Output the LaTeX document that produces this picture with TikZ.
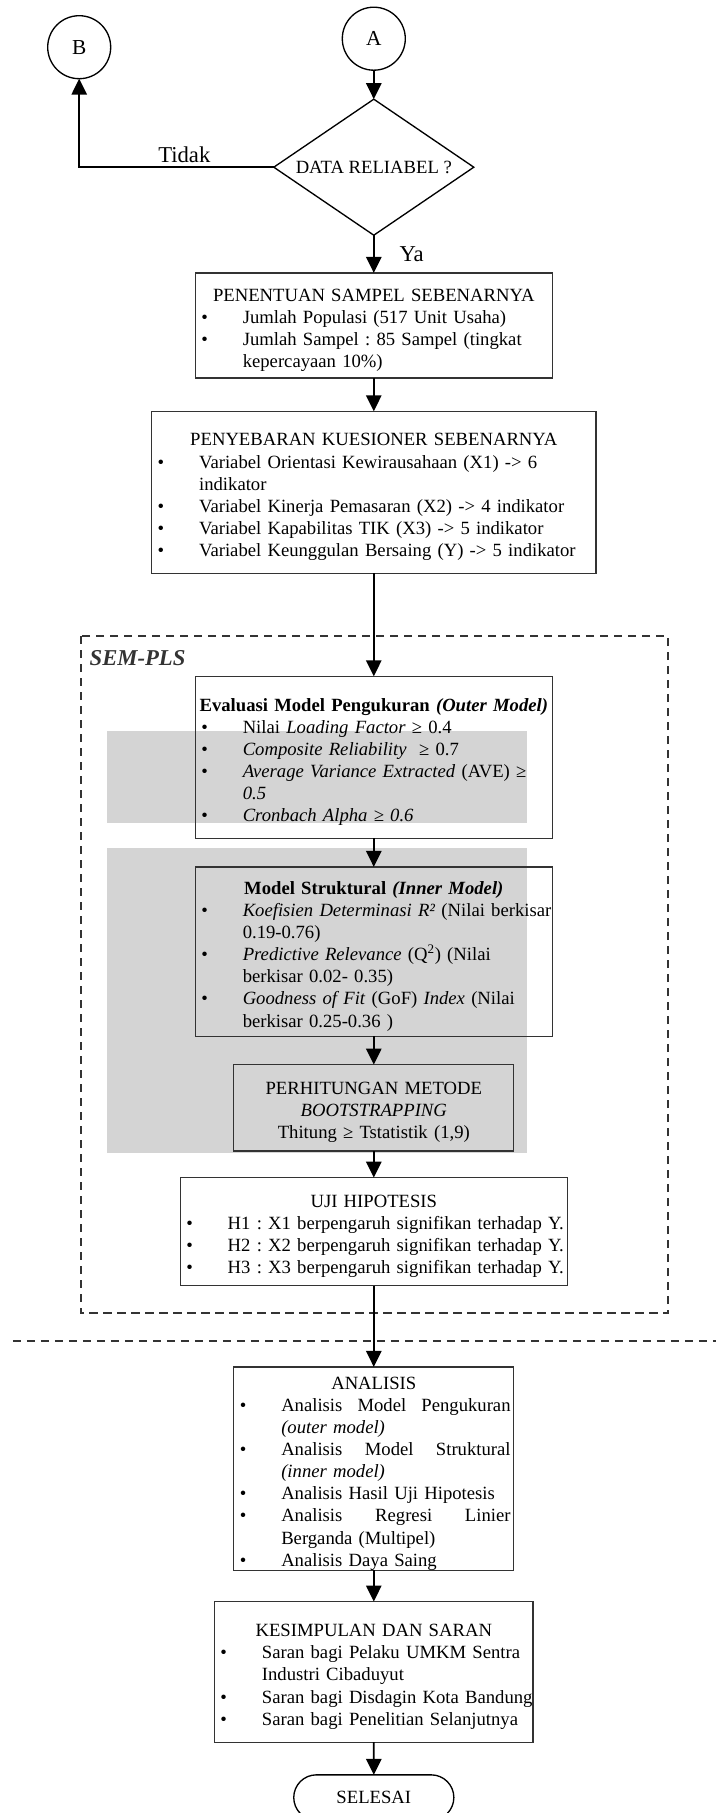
\documentclass[tikz,border=0pt]{standalone}
\usepackage{fontspec}
\setmainfont{Liberation Serif}
\usetikzlibrary{positioning,arrows.meta,shapes.geometric,shapes.misc}
\definecolor{linegray}{HTML}{333333}
\definecolor{wmgray}{HTML}{D4D4D4}
\frenchspacing
\newcommand{\ttl}[1]{\par\centerline{#1}}
\newcommand{\dotbox}{\makebox[34.6pt][l]{\hspace{3.5pt}\textbullet}}
\newcommand{\bul}[1]{\par\noindent\mbox{\dotbox#1}}
\newcommand{\jbul}[1]{\par\noindent\hbox to \dimexpr\hsize-1.4pt\relax{\dotbox#1}}
\newcommand{\cont}[1]{\par\noindent\mbox{\hspace*{34.6pt}#1}}

\begin{document}
\begin{tikzpicture}[
    x=0.75pt, y=-0.75pt,
    ->,
    >={Triangle[width=11.5pt,length=12pt]},
    line width=1.4pt,
    every node/.style={font=\fontsize{14pt}{16.6pt}\selectfont, outer sep=0pt},
    conn/.style={circle, draw, line width=1pt, minimum size=47.25pt, inner sep=0pt, font=\fontsize{16pt}{18pt}\selectfont},
    decision/.style={diamond, draw, line width=1pt, aspect=1.47, minimum width=150pt, minimum height=102pt, inner sep=0pt},
    box/.style={rectangle, draw=linegray, line width=1pt, inner xsep=1pt, inner ysep=0pt, align=left},
    term/.style={rounded rectangle, draw, line width=1pt, minimum width=126.75pt, minimum height=34pt},
    frame/.style={-, draw=linegray, line width=1.5pt, dash pattern=on 6.25pt off 4.25pt},
    lbl/.style={font=\fontsize{17pt}{20pt}\selectfont}
]
    \useasboundingbox (0,0) rectangle (716,1813);
    % watermark blocks behind the SEM-PLS boxes
    \fill[-, wmgray] (107.4,731) rectangle (526.6,822.7);
    \fill[-, wmgray] (107.4,848.3) rectangle (526.6,1152.7);

    \node[conn] (A) at (373.8,38.7) {A};
    \node[conn] (B) at (79.2,47.2) {B};
    \node[decision, below=21.75pt of A] (dec) {DATA RELIABEL ?};

    \node[box, text width=265.75pt, minimum height=78.75pt, below=28.3pt of dec] (sampel) {%
        \ttl{PENENTUAN SAMPEL SEBENARNYA}
        \bul{Jumlah Populasi (517 Unit Usaha)}
        \bul{Jumlah Sampel : 85 Sampel (tingkat}
        \cont{kepercayaan 10\%)}};
    \node[box, text width=331.2pt, minimum height=121.5pt, below=25pt of sampel] (sebar) {%
        \ttl{PENYEBARAN KUESIONER SEBENARNYA}
        \bul{Variabel Orientasi Kewirausahaan (X1) -> 6}
        \cont{indikator}
        \bul{Variabel Kinerja Pemasaran (X2) -> 4 indikator}
        \bul{Variabel Kapabilitas TIK (X3) -> 5 indikator}
        \bul{Variabel Keunggulan Bersaing (Y) -> 5 indikator}};

    % SEM-PLS block
    \node[box, text width=265.75pt, minimum height=121.5pt, below=77.25pt of sebar] (outer) {%
        \ttl{\textbf{Evaluasi Model Pengukuran \textit{(Outer Model)}}}
        \bul{Nilai \textit{Loading Factor} ≥ 0.4}
        \bul{\textit{Composite Reliability}\ \ ≥ 0.7}
        \bul{\textit{Average Variance Extracted} (AVE) ≥}
        \cont{\textit{0.5}}
        \bul{\textit{Cronbach Alpha ≥ 0.6}}};
    \node[box, text width=265.75pt, minimum height=127pt, below=21.5pt of outer] (inner) {%
        \ttl{\textbf{Model Struktural \textit{(Inner Model)}}}
        \bul{\textit{Koefisien Determinasi R²} (Nilai berkisar}
        \cont{0.19-0.76)}
        \bul{\textit{Predictive Relevance} (Q\textsuperscript{2}) (Nilai}
        \cont{berkisar 0.02- 0.35)}
        \bul{\textit{Goodness of Fit} (GoF) \textit{Index} (Nilai}
        \cont{berkisar 0.25-0.36 )}};
    \node[box, text width=208pt, minimum height=64.8pt, below=21.2pt of inner] (boot) {%
        \ttl{PERHITUNGAN METODE}
        \ttl{\textit{BOOTSTRAPPING}}
        \ttl{Thitung ≥ Tstatistik (1,9)}};
    \node[box, text width=288.3pt, minimum height=81pt, below=20pt of boot] (uji) {%
        \ttl{UJI HIPOTESIS}
        \bul{H1 : X1 berpengaruh signifikan terhadap Y.}
        \bul{H2 : X2 berpengaruh signifikan terhadap Y.}
        \bul{H3 : X3 berpengaruh signifikan terhadap Y.}};
    \node[anchor=west, inner sep=0pt, text=linegray, font=\fontsize{17pt}{20pt}\selectfont\bfseries\itshape] (sem) at (89.7,658) {SEM-PLS};
    \draw[frame] (80.6,636) rectangle (668,1313.3);
    \draw[frame] (12.8,1340.7) -- (716,1340.7);

    \node[box, text width=208pt, minimum height=148.8pt, below=61pt of uji] (analisis) {%
        \ttl{ANALISIS}
        \jbul{Analisis\hfill Model\hfill Pengukuran}
        \cont{\textit{(outer model)}}
        \jbul{Analisis\hfill Model\hfill Struktural}
        \cont{\textit{(inner model)}}
        \bul{Analisis Hasil Uji Hipotesis}
        \jbul{Analisis\hfill Regresi\hfill Linier}
        \cont{Berganda (Multipel)}
        \bul{Analisis Daya Saing}};
    \node[box, text width=237pt, minimum height=105.5pt, below=23.5pt of analisis] (simpul) {%
        \ttl{KESIMPULAN DAN SARAN}
        \bul{Saran bagi Pelaku UMKM Sentra}
        \cont{Industri Cibaduyut}
        \bul{Saran bagi Disdagin Kota Bandung}
        \bul{Saran bagi Penelitian Selanjutnya}};
    \node[term, below=24.5pt of simpul] (selesai) {SELESAI};

    \path (A) edge (dec);
    \path (dec) edge node[lbl, right=16pt] {Ya} (sampel);
    \draw (dec.west) -| node[lbl, above, pos=0.23] {Tidak} (B.south);
    \path (sampel) edge (sebar);
    \path (sebar) edge (outer);
    \path (outer) edge (inner);
    \path (inner) edge (boot);
    \path (boot) edge (uji);
    \path (uji) edge (analisis);
    \path (analisis) edge (simpul);
    \path (simpul) edge (selesai);
\end{tikzpicture}
\end{document}
